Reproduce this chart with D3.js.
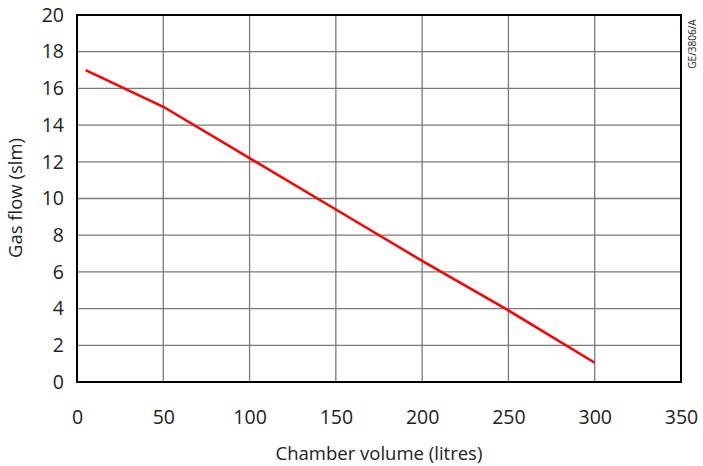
<!DOCTYPE html>
<html>
<head>
<meta charset="utf-8">
<script src="https://d3js.org/d3.v7.min.js"></script>
<style>
body{margin:0;background:#fff;}
text{font-family:"Open Sans","Liberation Sans",sans-serif;fill:#222;}
</style>
</head>
<body>
<script>
var volume = [5, 50, 100, 150, 200, 250, 300];
var flow = [17, 15, 12.2, 9.4, 6.6, 3.9, 1.05];
var xTicks = [0, 50, 100, 150, 200, 250, 300, 350];
var yTicks = [0, 2, 4, 6, 8, 10, 12, 14, 16, 18, 20];

var margin = {top:15, left:77, bottom:84, right:22};
var totalWidth = 703;
var totalHeight = 466;
var width = totalWidth - margin.left - margin.right;
var height = totalHeight - margin.top - margin.bottom;

var svg = d3.select("body")
    .append("svg")
    .attr("width",totalWidth)
    .attr("height",totalHeight)
    .append("g")
    .attr("transform","translate("+margin.left+","+margin.top+")");

var xScale = d3.scaleLinear().domain([0,350]).range([0,width]);
var yScale = d3.scaleLinear().domain([0,20]).range([height,0]);

// grid
svg.append("g").selectAll("line.v")
    .data(xTicks.slice(1,-1))
    .enter().append("line")
    .attr("x1",function(d){return xScale(d);})
    .attr("x2",function(d){return xScale(d);})
    .attr("y1",0).attr("y2",height)
    .attr("stroke","#7a7a7a").attr("stroke-width",1.3);

svg.append("g").selectAll("line.h")
    .data(yTicks.slice(1,-1))
    .enter().append("line")
    .attr("y1",function(d){return yScale(d);})
    .attr("y2",function(d){return yScale(d);})
    .attr("x1",0).attr("x2",width)
    .attr("stroke","#7a7a7a").attr("stroke-width",1.3);

svg.append("rect")
    .attr("width",width).attr("height",height)
    .attr("fill","none").attr("stroke","#000").attr("stroke-width",2);

// axes (labels only)
var xAxis = d3.axisBottom(xScale).tickValues(xTicks).tickSize(0).tickPadding(28);
var xAxisGroup = svg.append("g").attr("transform","translate(0,"+height+")").call(xAxis);
var yAxis = d3.axisLeft(yScale).tickValues(yTicks).tickSize(0).tickPadding(13);
var yAxisGroup = svg.append("g").call(yAxis);
[xAxisGroup,yAxisGroup].forEach(function(g){
    g.select(".domain").remove();
    g.selectAll("text").style("font-size","19.5px").attr("fill","#222")
     .style("font-family","'Open Sans','Liberation Sans',sans-serif");
});

var line = d3.line()
    .x(function(d,i){return xScale(volume[i]);})
    .y(function(d){return yScale(d);});

svg.append("path")
    .datum(flow)
    .attr("d",line)
    .attr("fill","none")
    .attr("stroke","#ff0000")
    .attr("stroke-width",2.5);

svg.append("text")
    .attr("x",width/2)
    .attr("y",height+78)
    .style("text-anchor","middle")
    .style("font-size","18.5px")
    .text("Chamber volume (litres)");

svg.append("text")
    .attr("transform","rotate(-90)")
    .attr("x",-height/2 + 0.5)
    .attr("y",-55)
    .style("text-anchor","middle")
    .style("font-size","18.5px")
    .text("Gas flow (slm)");

svg.append("text")
    .attr("transform","translate("+(width+14.5)+",0) rotate(-90)")
    .attr("x",-29)
    .attr("y",0)
    .style("text-anchor","middle")
    .style("font-size","10px")
    .text("GE/3806/A");
</script>
</body>
</html>
